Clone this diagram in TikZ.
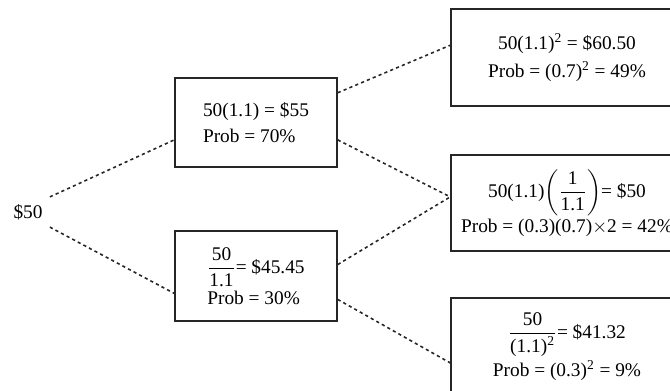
\documentclass[tikz,border=0pt]{standalone}
\usepackage{amsmath}
\usepackage{fontspec}
\setmainfont{Liberation Serif}
\usepackage{tikz}

\begin{document}
\begin{tikzpicture}[x=0.02cm,y=-0.02cm,font=\fontsize{11}{14}\selectfont]
  \tikzstyle{box}=[draw=black!85, line width=0.9pt, rectangle, inner sep=2pt]
  \tikzstyle{link}=[draw=black!85, line width=0.9pt, dash pattern=on 1.8pt off 1.8pt]
  \useasboundingbox (0,0) rectangle (670,390);
  \clip (0,0) rectangle (670,390);

  \node[inner sep=4pt] (s) at (28,212) {\$50};
  \node[box, minimum width=3.24cm, minimum height=1.78cm, align=left] (M_1) at (256,122.5) {50(1.1) = \$55\\[1pt]Prob = 70\%};
  \node[box, minimum width=3.24cm, minimum height=1.8cm, align=left] (M_2) at (256,276) {$\dfrac{\text{50}}{\text{1.1}}$= \$45.45\\[1pt]Prob = 30\%};
  \node[box, minimum width=4.64cm, minimum height=1.94cm, align=center] (R_1) at (567,57.5) {50(1.1)\textsuperscript{2} = \$60.50\\[2pt]Prob = (0.7)\textsuperscript{2} = 49\%};
  \node[box, minimum width=4.64cm, minimum height=1.92cm, align=center] (R_2) at (567,203) {50(1.1)$\left(\dfrac{\text{1}}{\text{1.1}}\right)$= \$50\\[1pt]Prob = (0.3)(0.7)$\times$2 = 42\%};
  \node[box, minimum width=4.64cm, minimum height=1.94cm, align=center] (R_3) at (567,346.5) {$\dfrac{\text{50}}{\text{(1.1)}^{\text{2}}}$= \$41.32\\[1pt]Prob = (0.3)\textsuperscript{2} = 9\%};

  \draw[link] (s.north east) -- (M_1.192);
  \draw[link] (s.south east) -- (M_2.192);

  \draw[link] (M_1.20) -- (R_1.174);
  \draw[link] (M_1.348) -- (R_2.177);
  \draw[link] (M_2.8) -- (R_2.177);
  \draw[link] (M_2.344) -- (R_3.188);
\end{tikzpicture}
\end{document}
